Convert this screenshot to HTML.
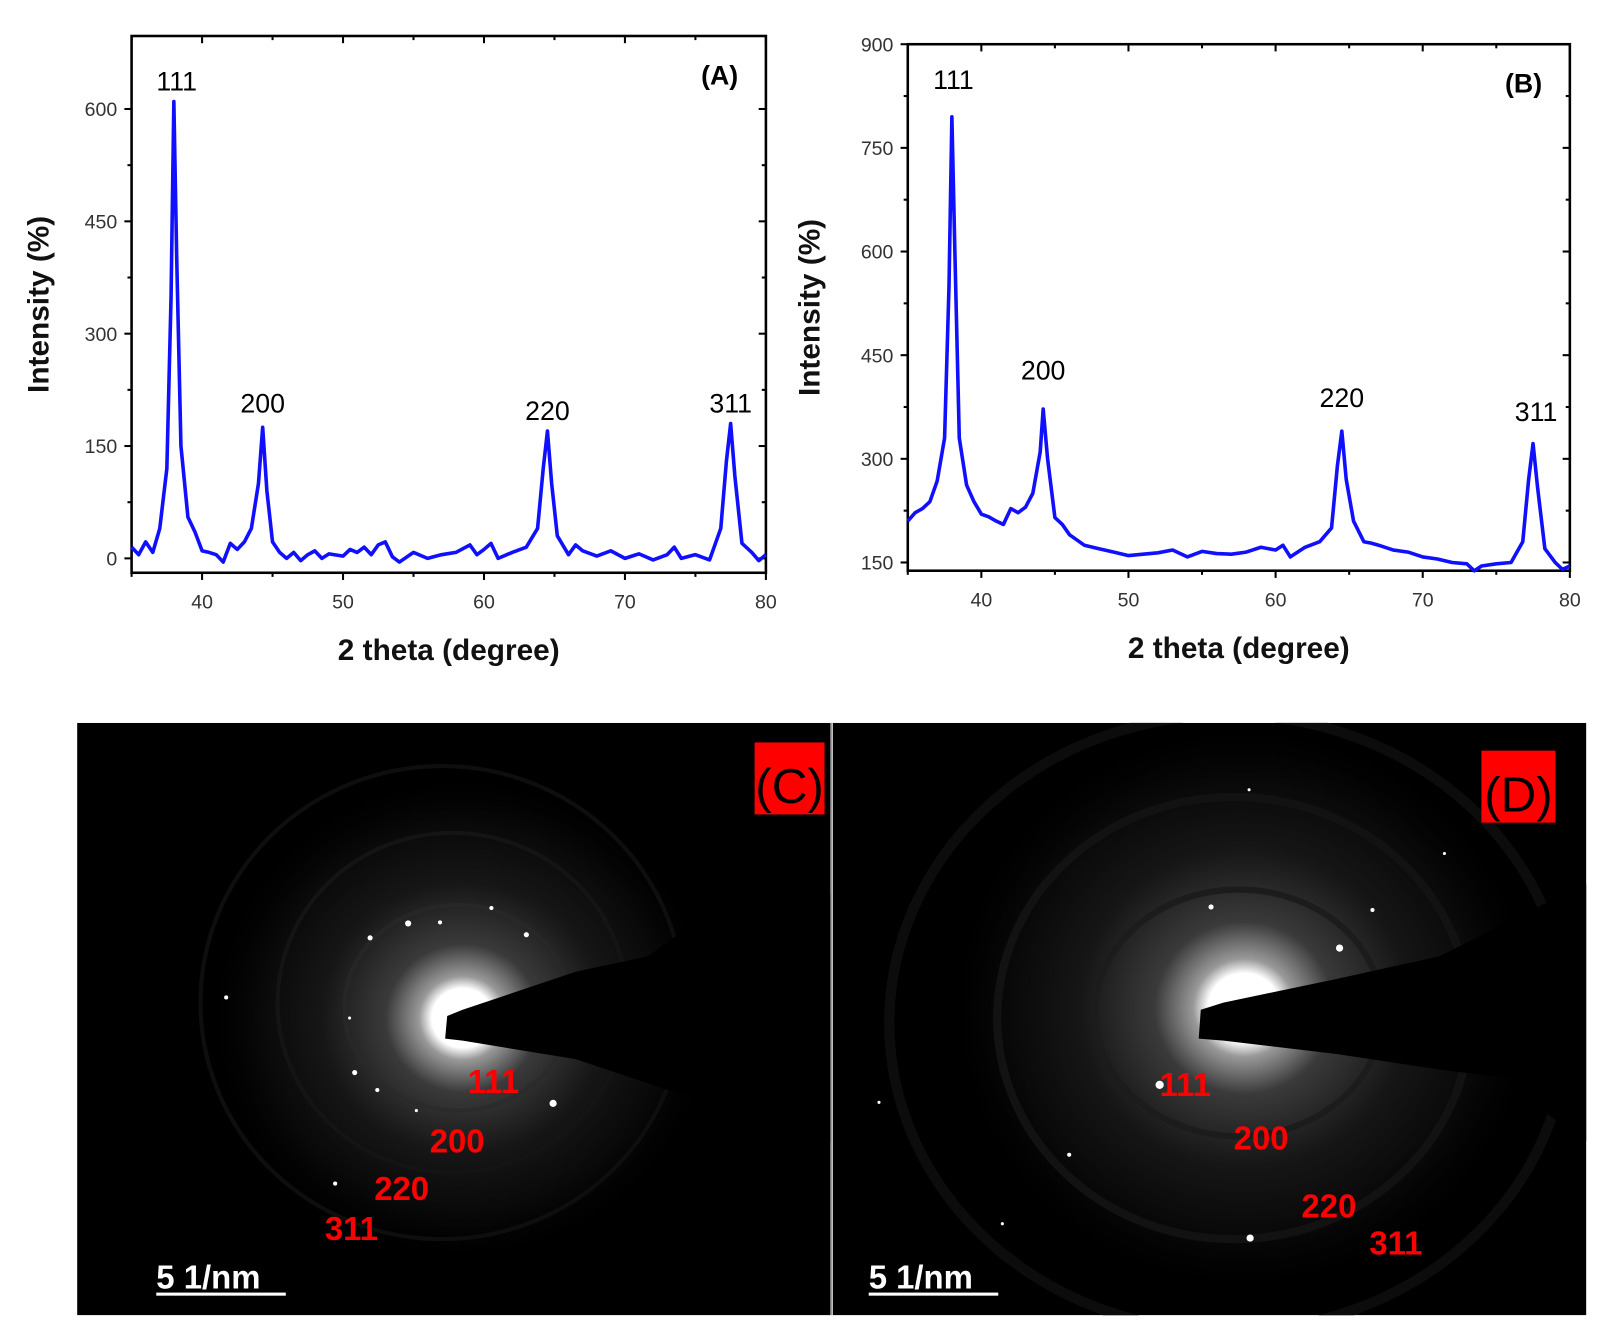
<!DOCTYPE html>
<html><head><meta charset="utf-8"><style>
html,body{margin:0;padding:0;background:#fff;}
svg{display:block;}
text{font-family:"Liberation Sans",sans-serif;}
</style></head><body>
<svg id="fig" width="1612" height="1344" viewBox="0 0 1568 1307" preserveAspectRatio="none" xmlns="http://www.w3.org/2000/svg">
<defs>
<radialGradient id="glowC" cx="0.5" cy="0.5" r="0.5">
<stop offset="0" stop-color="#fff"/><stop offset="0.12" stop-color="#fff"/><stop offset="0.17" stop-color="#999"/><stop offset="0.3" stop-color="#3a3a3a"/><stop offset="0.55" stop-color="#161616"/><stop offset="0.8" stop-color="#080808"/><stop offset="1" stop-color="#000" stop-opacity="0"/>
</radialGradient>
<clipPath id="clipC"><rect x="75" y="703" width="733" height="576"/></clipPath>
<clipPath id="clipD"><rect x="810" y="703" width="733" height="576"/></clipPath>
</defs>
<g id="chartA"></g>
<g id="chartB"></g>

<!-- Panel C -->
<g clip-path="url(#clipC)">
<rect x="75" y="703" width="733" height="576" fill="#000"/>
<ellipse cx="450" cy="990" rx="250" ry="240" fill="url(#glowC)"/>
<ellipse cx="445" cy="980" rx="110" ry="100" fill="none" stroke="#2a2a2a" stroke-width="4" opacity="0.6"/>
<ellipse cx="440" cy="975" rx="170" ry="165" fill="none" stroke="#141414" stroke-width="4"/>
<ellipse cx="430" cy="975" rx="235" ry="230" fill="none" stroke="#0e0e0e" stroke-width="4"/>
<g fill="#fff">
<circle cx="360" cy="912" r="2.5"/><circle cx="397" cy="898" r="3"/><circle cx="428" cy="897" r="2"/><circle cx="478" cy="883" r="2"/><circle cx="512" cy="909" r="2.5"/><circle cx="558" cy="951" r="3"/><circle cx="345" cy="1043" r="2.5"/><circle cx="367" cy="1060" r="2"/><circle cx="538" cy="1073" r="3.5"/><circle cx="220" cy="970" r="2"/><circle cx="326" cy="1151" r="2"/><circle cx="340" cy="990" r="1.5"/><circle cx="405" cy="1080" r="1.5"/>
</g>
<polygon points="435,988 450,982 560,945 630,930 665,905 720,880 808,870 808,1110 740,1100 690,1070 650,1060 560,1030 450,1012 433,1010" fill="#000"/>
<rect x="734" y="722" width="68" height="70" fill="#f00"/>
<text x="768" y="781" font-size="48" fill="#000" text-anchor="middle" font-family="Liberation Sans Narrow, Liberation Sans, sans-serif">(C)</text>
<g fill="#f00" font-size="32" font-weight="bold" font-family="Liberation Sans Narrow, Liberation Sans, sans-serif">
<text x="455" y="1063">111</text>
<text x="418" y="1121">200</text>
<text x="364" y="1167">220</text>
<text x="316" y="1206">311</text>
</g>
<text x="152" y="1253" font-size="32" font-weight="bold" fill="#fff" font-family="Liberation Sans Narrow, Liberation Sans, sans-serif">5 1/nm</text>
<rect x="152" y="1257" width="126" height="3" fill="#fff"/>
</g>

<!-- Panel D -->
<g clip-path="url(#clipD)">
<rect x="810" y="703" width="733" height="576" fill="#000"/>
<ellipse cx="1210" cy="980" rx="290" ry="280" fill="url(#glowC)"/>
<ellipse cx="1205" cy="985" rx="140" ry="120" fill="none" stroke="#1c1c1c" stroke-width="6"/>
<ellipse cx="1200" cy="990" rx="230" ry="215" fill="none" stroke="#121212" stroke-width="8"/>
<ellipse cx="1195" cy="995" rx="330" ry="300" fill="none" stroke="#0c0c0c" stroke-width="10"/>
<g fill="#fff">
<circle cx="1303" cy="922" r="3.5"/><circle cx="1178" cy="882" r="2.5"/><circle cx="1335" cy="885" r="2"/><circle cx="1128" cy="1055" r="4"/><circle cx="1216" cy="1204" r="3.5"/><circle cx="1040" cy="1123" r="2"/><circle cx="975" cy="1190" r="1.5"/><circle cx="1215" cy="768" r="1.5"/><circle cx="1405" cy="830" r="1.5"/><circle cx="855" cy="1072" r="1.5"/>
</g>
<polygon points="1168,982 1190,975 1300,952 1400,930 1440,910 1500,880 1543,860 1543,1110 1500,1080 1480,1050 1400,1040 1300,1025 1190,1012 1166,1010" fill="#000"/>
<rect x="1441" y="730" width="72" height="70" fill="#f00"/>
<text x="1477" y="789" font-size="48" fill="#000" text-anchor="middle" font-family="Liberation Sans Narrow, Liberation Sans, sans-serif">(D)</text>
<g fill="#f00" font-size="32" font-weight="bold" font-family="Liberation Sans Narrow, Liberation Sans, sans-serif">
<text x="1128" y="1066">111</text>
<text x="1200" y="1118">200</text>
<text x="1266" y="1184">220</text>
<text x="1332" y="1220">311</text>
</g>
<text x="845" y="1253" font-size="32" font-weight="bold" fill="#fff" font-family="Liberation Sans Narrow, Liberation Sans, sans-serif">5 1/nm</text>
<rect x="845" y="1257" width="126" height="3" fill="#fff"/>
</g>
<line x1="809" y1="703" x2="809" y2="1279" stroke="#888" stroke-width="1"/>
</svg>
<script>
const xTicks = [40, 50, 60, 70, 80];
const yTicksA = [0, 150, 300, 450, 600];
const yTicksB = [150, 300, 450, 600, 750, 900];
const peakLabels = ["111", "200", "220", "311"];
const xA = [35,35.5,36,36.5,37,37.5,37.8,38,38.2,38.5,39,39.5,40,40.5,41,41.5,42,42.5,43,43.5,44,44.3,44.6,45,45.5,46,46.5,47,47.5,48,48.5,49,50,50.5,51,51.5,52,52.5,53,53.5,54,55,56,57,58,59,59.5,60,60.5,61,62,63,63.8,64.2,64.5,64.8,65.2,66,66.5,67,68,69,70,71,72,73,73.5,74,75,76,76.8,77.2,77.5,77.8,78.3,79,79.5,80];
const yA = [15,5,22,8,40,120,350,610,400,150,55,35,10,8,5,-5,20,12,22,40,100,175,90,22,8,0,8,-3,5,10,0,6,3,12,8,15,5,18,22,2,-5,8,0,5,8,18,5,12,20,0,8,15,40,120,170,100,30,5,18,10,3,10,0,6,-2,5,15,0,5,-2,40,130,180,110,20,8,-3,5];
const xB = [35,35.5,36,36.5,37,37.5,37.8,38,38.2,38.5,39,39.5,40,40.5,41,41.5,42,42.5,43,43.5,44,44.2,44.5,45,45.5,46,47,48,49,50,51,52,53,54,55,56,57,58,59,60,60.5,61,62,63,63.8,64.2,64.5,64.8,65.3,66,66.5,67,68,69,70,71,72,73,73.5,74,75,76,76.8,77.2,77.5,77.8,78.3,79,79.5,80];
const yB = [210,222,228,238,268,330,550,795,600,330,262,238,220,216,210,205,228,222,230,250,310,372,300,215,205,190,175,170,165,160,162,164,168,158,166,163,162,165,172,168,175,158,172,180,200,290,340,270,210,180,178,175,168,165,158,155,150,148,138,145,148,150,180,270,322,260,170,150,140,145];

function buildChart(gid, cfg){
  const g = document.getElementById(gid);
  const NS = "http://www.w3.org/2000/svg";
  const sx = v => cfg.L + (v - 35) / 45 * (cfg.R - cfg.L);
  const sy = v => cfg.y0px + (v - cfg.y0) / (cfg.y1 - cfg.y0) * (cfg.y1px - cfg.y0px);
  function mk(tag, attrs){ const e = document.createElementNS(NS, tag); for (const k in attrs) e.setAttribute(k, attrs[k]); g.appendChild(e); return e; }
  const frame = mk("rect", {x: cfg.L, y: cfg.T, width: cfg.R - cfg.L, height: cfg.B - cfg.T, fill: "none", stroke: "#000", "stroke-width": 2.5});
  
  
  for (let v = 35; v <= 80; v += 5) {
    const major = v % 10 === 0;
    const len = major ? 7 : 4;
    mk("line", {x1: sx(v), x2: sx(v), y1: cfg.B, y2: cfg.B + len, stroke: "#000", "stroke-width": 2});
    mk("line", {x1: sx(v), x2: sx(v), y1: cfg.T, y2: cfg.T + len, stroke: "#000", "stroke-width": 2});
  }
  xTicks.forEach(v => {
    const t = mk("text", {x: sx(v), y: cfg.B + 35, "font-size": 19, "text-anchor": "middle", fill: "#333"});
    t.textContent = v;
    
    
  });
  const yt = cfg.yTicks;
  const step = yt[1] - yt[0];
  for (let v = yt[0] - step; v <= yt[yt.length - 1] + 0.1; v += step / 2) {
    const p = sy(v);
    if (p < cfg.T - 1 || p > cfg.B + 1) continue;
    const major = yt.includes(v);
    const len = major ? 7 : 4;
    mk("line", {x1: cfg.L - len, x2: cfg.L, y1: p, y2: p, stroke: "#000", "stroke-width": 2});
    mk("line", {x1: cfg.R - len, x2: cfg.R, y1: p, y2: p, stroke: "#000", "stroke-width": 2});
  }
  yt.forEach(v => {
    const t = mk("text", {x: cfg.L - 14, y: sy(v) + 7, "font-size": 19, "text-anchor": "end", fill: "#333"});
    t.textContent = v;
    
    
  });
  const d = cfg.xs.map((x, i) => (i ? "L" : "M") + sx(x).toFixed(1) + "," + sy(cfg.ys[i]).toFixed(1)).join("");
  const path = mk("path", {d: d, fill: "none", stroke: "#1010ff", "stroke-width": 3.5, "stroke-linejoin": "round"});
  
  
  cfg.peaks.forEach((p, i) => {
    const t = mk("text", {x: sx(p[0]), y: sy(p[1]), "font-size": 26, "text-anchor": "middle", fill: "#000"});
    t.textContent = peakLabels[i];
    
    
  });
  const pl = mk("text", {x: cfg.R - 45, y: cfg.T + 47, "font-size": 26, "font-weight": "bold", "text-anchor": "middle", fill: "#000"});
  pl.textContent = cfg.panel;
  
  
  const xt = mk("text", {x: (cfg.L + cfg.R) / 2, y: cfg.B + 85, "font-size": 29, "font-weight": "bold", "text-anchor": "middle", fill: "#111"});
  xt.textContent = "2 theta (degree)";
  
  
  const cy = (cfg.T + cfg.B) / 2;
  const yl = mk("text", {x: cfg.yTitleX, y: cy, "font-size": 29, "font-weight": "bold", "text-anchor": "middle", fill: "#111", transform: "rotate(-90 " + cfg.yTitleX + " " + cy + ")"});
  yl.textContent = "Intensity (%)";
  
  
}
buildChart("chartA", {L:128, R:745, T:35, B:557, y0:0, y1:600, y0px:543, y1px:106, yTicks:yTicksA, xs:xA, ys:yA,
  peaks:[[38.2,625],[44.3,195],[64.5,185],[77.5,195]], panel:"(A)", yTitleX:47});
buildChart("chartB", {L:883, R:1527, T:43, B:555, y0:150, y1:900, y0px:547, y1px:43, yTicks:yTicksB, xs:xB, ys:yB,
  peaks:[[38.1,835],[44.2,415],[64.5,375],[77.7,355]], panel:"(B)", yTitleX:797});
</script>
</body></html>
